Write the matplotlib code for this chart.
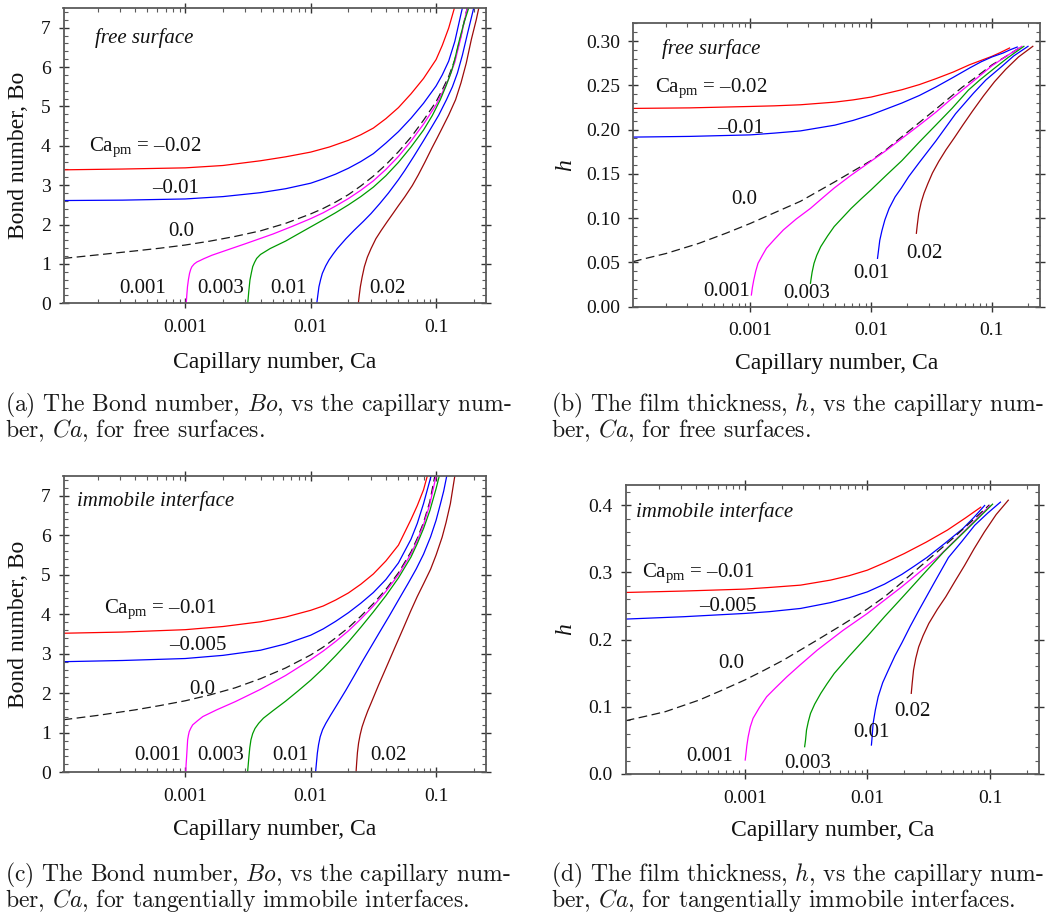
import numpy as np
import matplotlib
matplotlib.use("Agg")
import matplotlib.pyplot as plt
from matplotlib.ticker import LogLocator, MultipleLocator, NullFormatter, FormatStrFormatter

plt.rcParams["font.family"] = ["Liberation Serif", "DejaVu Serif"]
plt.rcParams["mathtext.fontset"] = "custom"
plt.rcParams["mathtext.rm"] = "Liberation Serif"
plt.rcParams["mathtext.it"] = "Liberation Serif:italic"

# ---------------------------------------------------------------- data
CA_MIN, CA_MAX = 1.07e-4, 0.25

# (a) free surface: Bond number vs capillary number, one curve per Ca_pm
fs_bo_m002_ca = [1.07e-4, 3.16e-4, 1e-3, 2e-3, 3.98e-3, 6.31e-3, 0.01, 0.0141, 0.02, 0.0251, 0.0316, 0.0398,
                 0.0501, 0.0631, 0.0794, 0.1, 0.112, 0.126, 0.140]
fs_bo_m002 = [3.39, 3.41, 3.44, 3.50, 3.62, 3.72, 3.84, 3.97, 4.14, 4.28, 4.45, 4.69,
              4.97, 5.32, 5.71, 6.19, 6.55, 6.99, 7.5]
fs_bo_m001_ca = [1.07e-4, 3.16e-4, 1e-3, 2e-3, 3.98e-3, 6.31e-3, 0.01, 0.0126, 0.0158, 0.02, 0.0251, 0.0316,
                 0.0398, 0.0501, 0.0631, 0.0794, 0.1, 0.112, 0.126, 0.141, 0.158, 0.162]
fs_bo_m001 = [2.61, 2.62, 2.65, 2.71, 2.81, 2.91, 3.05, 3.16, 3.28, 3.43, 3.60, 3.80,
              4.07, 4.36, 4.70, 5.08, 5.52, 5.80, 6.15, 6.65, 7.35, 7.5]
fs_bo_0_ca = [1.07e-4, 2.0e-4, 3.98e-4, 6.31e-4, 1e-3, 1.58e-3, 2.51e-3, 3.98e-3, 6.31e-3, 0.01, 0.0126,
              0.0158, 0.02, 0.0251, 0.0316, 0.0398, 0.0501, 0.0631, 0.0794, 0.1, 0.112, 0.126, 0.141,
              0.158, 0.177]
fs_bo_0 = [1.14, 1.23, 1.33, 1.40, 1.48, 1.58, 1.70, 1.84, 2.03, 2.27, 2.41,
           2.57, 2.76, 2.98, 3.23, 3.52, 3.85, 4.22, 4.65, 5.12, 5.42, 5.76, 6.18,
           6.80, 7.5]
fs_bo_p0001_ca = [1.018e-3, 1.03e-3, 1.042e-3, 1.06e-3, 1.082e-3, 1.105e-3, 1.13e-3, 1.18e-3, 1.24e-3,
                  1.32e-3, 1.40e-3, 1.63e-3, 2.14e-3, 3e-3, 5.01e-3, 7.08e-3, 0.01, 0.0126, 0.0158,
                  0.02, 0.0251, 0.0316, 0.0398, 0.0501, 0.0631, 0.0794, 0.1, 0.112, 0.126, 0.141,
                  0.158, 0.177]
fs_bo_p0001 = [0, 0.22, 0.42, 0.60, 0.76, 0.86, 0.93, 1.0, 1.05,
               1.09, 1.13, 1.22, 1.35, 1.51, 1.76, 1.95, 2.15, 2.30, 2.47,
               2.66, 2.87, 3.11, 3.40, 3.73, 4.12, 4.55, 5.04, 5.35, 5.70, 6.12,
               6.76, 7.5]
fs_bo_p0003_ca = [3.15e-3, 3.21e-3, 3.28e-3, 3.37e-3, 3.45e-3, 3.57e-3, 3.71e-3, 3.98e-3, 4.75e-3,
                  6.31e-3, 7.94e-3, 0.01, 0.0126, 0.0158, 0.02, 0.0251, 0.0316, 0.0398, 0.0501,
                  0.0631, 0.0794, 0.0933, 0.108, 0.120, 0.132, 0.141, 0.151, 0.166, 0.182]
fs_bo_p0003 = [0, 0.3, 0.59, 0.78, 0.93, 1.04, 1.14, 1.24, 1.39,
               1.58, 1.76, 1.94, 2.12, 2.30, 2.50, 2.71, 2.95, 3.24, 3.58,
               3.97, 4.40, 4.77, 5.17, 5.52, 5.87, 6.2, 6.6, 7.1, 7.5]
fs_bo_p001_ca = [0.01119, 0.0114, 0.01164, 0.0120, 0.01239, 0.01318, 0.0140, 0.0151, 0.0163, 0.0191,
                 0.0223, 0.0263, 0.0303, 0.0355, 0.0417, 0.0501, 0.0562, 0.0661, 0.0794, 0.0904,
                 0.105, 0.121, 0.135, 0.148, 0.162, 0.178, 0.1995]
fs_bo_p001 = [0, 0.2, 0.42, 0.6, 0.76, 0.95, 1.10, 1.25, 1.39, 1.64,
              1.86, 2.08, 2.28, 2.53, 2.80, 3.14, 3.37, 3.72, 4.13, 4.43,
              4.78, 5.17, 5.5, 5.85, 6.3, 6.85, 7.5]
fs_bo_p002_ca = [0.0240, 0.0244, 0.0249, 0.0257, 0.0268, 0.0283, 0.0303, 0.0331, 0.0365, 0.0407,
                 0.0453, 0.0501, 0.0562, 0.0646, 0.0721, 0.0813, 0.0925, 0.102, 0.111, 0.126,
                 0.143, 0.158, 0.174, 0.191, 0.209, 0.219]
fs_bo_p002 = [0, 0.2, 0.42, 0.66, 0.93, 1.17, 1.39, 1.64, 1.85, 2.07,
              2.28, 2.48, 2.70, 2.99, 3.26, 3.58, 3.94, 4.2, 4.43, 4.78,
              5.17, 5.6, 6.1, 6.7, 7.2, 7.5]

# (b) free surface: film thickness vs capillary number
fs_h_m002_ca = [1.07e-4, 3.16e-4, 1e-3, 1.58e-3, 2.6e-3, 5.01e-3, 7.08e-3, 0.01, 0.018, 0.0251, 0.0343,
                0.0479, 0.0653, 0.1, 0.1175, 0.140]
fs_h_m002 = [0.2239, 0.2245, 0.2261, 0.2268, 0.228, 0.231, 0.2335, 0.2367, 0.245, 0.2508, 0.2574,
             0.2650, 0.2732, 0.2827, 0.2870, 0.2921]
fs_h_m001_ca = [1.07e-4, 3.16e-4, 1e-3, 1.58e-3, 2.6e-3, 5.01e-3, 7.08e-3, 0.01, 0.018, 0.0251, 0.0343,
                0.0479, 0.0653, 0.0813, 0.1, 0.124, 0.141, 0.162]
fs_h_m001 = [0.1915, 0.1923, 0.194, 0.196, 0.1985, 0.205, 0.2103, 0.2167, 0.230, 0.2385, 0.248,
             0.259, 0.2695, 0.2765, 0.282, 0.2865, 0.290, 0.2932]
fs_h_0_ca = [1.07e-4, 1.41e-4, 2.0e-4, 3.75e-4, 6.31e-4, 1e-3, 1.58e-3, 2.6e-3, 5.01e-3, 7.08e-3, 0.01,
             0.0135, 0.018, 0.0251, 0.0343, 0.0564, 0.0759, 0.1, 0.132, 0.177]
fs_h_0 = [0.0509, 0.055, 0.060, 0.0715, 0.083, 0.094, 0.106, 0.119, 0.141, 0.153, 0.165,
          0.178, 0.192, 0.208, 0.223, 0.2475, 0.2605, 0.273, 0.283, 0.294]
fs_h_p0001_ca = [1.021e-3, 1.042e-3, 1.069e-3, 1.109e-3, 1.159e-3, 1.259e-3, 1.361e-3, 1.585e-3, 1.879e-3,
                 2.399e-3, 3.148e-3, 3.98e-3, 4.95e-3, 6.76e-3, 9.44e-3, 0.0132, 0.018, 0.0251, 0.0343,
                 0.0447, 0.058, 0.0759, 0.1, 0.132, 0.177]
fs_h_p0001 = [0.0132, 0.022, 0.0302, 0.040, 0.049, 0.058, 0.066, 0.076, 0.0867,
              0.099, 0.111, 0.123, 0.134, 0.148, 0.162, 0.176, 0.190, 0.205, 0.2195,
              0.233, 0.2455, 0.2585, 0.272, 0.283, 0.294]
fs_h_p0003_ca = [3.148e-3, 3.20e-3, 3.25e-3, 3.37e-3, 3.55e-3, 3.83e-3, 4.37e-3, 4.95e-3, 6.84e-3, 8.32e-3,
                 0.01, 0.0135, 0.018, 0.0251, 0.0343, 0.0468, 0.0638, 0.0794, 0.1, 0.135, 0.184]
fs_h_p0003 = [0.0264, 0.033, 0.039, 0.049, 0.058, 0.0678, 0.080, 0.0905, 0.111, 0.122,
              0.132, 0.149, 0.165, 0.186, 0.205, 0.224, 0.2445, 0.256, 0.267, 0.281, 0.294]
fs_h_p001_ca = [0.0113, 0.01148, 0.0118, 0.0123, 0.0130, 0.0141, 0.0158, 0.0178, 0.0205, 0.0251, 0.0343,
                0.0501, 0.0703, 0.0891, 0.120, 0.151, 0.199]
fs_h_p001 = [0.0546, 0.062, 0.075, 0.086, 0.098, 0.111, 0.124, 0.134, 0.147, 0.163, 0.187,
             0.218, 0.241, 0.256, 0.271, 0.283, 0.294]
fs_h_p002_ca = [0.0237, 0.0241, 0.0248, 0.0260, 0.0274, 0.0295, 0.0322, 0.0363, 0.0416, 0.0490, 0.0574,
                0.0692, 0.0851, 0.105, 0.130, 0.166, 0.218]
fs_h_p002 = [0.0829, 0.092, 0.1055, 0.118, 0.128, 0.139, 0.151, 0.164, 0.177, 0.191, 0.205,
             0.221, 0.238, 0.254, 0.268, 0.282, 0.294]

# (c) immobile interface: Bond number vs capillary number
im_bo_m001_ca = [1.07e-4, 3.16e-4, 1e-3, 2e-3, 3.98e-3, 6.31e-3, 0.01, 0.0126, 0.0158, 0.02, 0.0251,
                 0.0316, 0.0398, 0.0501, 0.0631, 0.0708, 0.0794, 0.0851]
im_bo_m001 = [3.52, 3.55, 3.61, 3.69, 3.81, 3.93, 4.10, 4.21, 4.36, 4.54, 4.76,
              5.02, 5.35, 5.75, 6.4, 6.75, 7.15, 7.5]
im_bo_m0005_ca = [1.07e-4, 3.16e-4, 1e-3, 2e-3, 3.98e-3, 6.31e-3, 0.01, 0.0126, 0.0158, 0.02, 0.0251,
                  0.0316, 0.0398, 0.0501, 0.0631, 0.0708, 0.0794, 0.0851, 0.0912]
im_bo_m0005 = [2.80, 2.83, 2.88, 2.96, 3.09, 3.25, 3.47, 3.63, 3.82, 4.04, 4.28,
               4.55, 4.88, 5.3, 5.9, 6.3, 6.8, 7.15, 7.5]
im_bo_0_ca = [1.07e-4, 2.0e-4, 3.98e-4, 6.31e-4, 1e-3, 1.58e-3, 2.51e-3, 3.98e-3, 6.31e-3, 0.01, 0.0126,
              0.0158, 0.02, 0.0251, 0.0316, 0.0398, 0.0501, 0.0631, 0.0708, 0.0794, 0.0891, 0.0977]
im_bo_0 = [1.33, 1.44, 1.58, 1.69, 1.81, 1.96, 2.14, 2.37, 2.64, 2.97, 3.17,
           3.40, 3.66, 3.95, 4.27, 4.63, 5.05, 5.58, 5.92, 6.32, 6.85, 7.5]
im_bo_p0001_ca = [1.009e-3, 1.016e-3, 1.026e-3, 1.035e-3, 1.045e-3, 1.059e-3, 1.076e-3, 1.109e-3, 1.146e-3,
                  1.259e-3, 1.380e-3, 1.778e-3, 2.512e-3, 3.98e-3, 6.31e-3, 0.01, 0.0126, 0.0158, 0.02,
                  0.0251, 0.0316, 0.0398, 0.0501, 0.0631, 0.0708, 0.0794, 0.0891, 0.1]
im_bo_p0001 = [0, 0.2, 0.4, 0.6, 0.82, 0.93, 1.03, 1.12, 1.2,
               1.31, 1.41, 1.58, 1.79, 2.1, 2.45, 2.85, 3.07, 3.31, 3.58,
               3.88, 4.21, 4.58, 5.0, 5.53, 5.87, 6.27, 6.78, 7.5]
im_bo_p0003_ca = [3.14e-3, 3.18e-3, 3.22e-3, 3.27e-3, 3.34e-3, 3.45e-3, 3.60e-3, 3.85e-3, 4.20e-3,
                  5.01e-3, 6.31e-3, 7.94e-3, 0.01, 0.0126, 0.0158, 0.02, 0.0251, 0.0316, 0.0398,
                  0.0501, 0.0631, 0.0708, 0.0794, 0.0891, 0.1, 0.106]
im_bo_p0003 = [0, 0.2, 0.4, 0.62, 0.82, 0.98, 1.11, 1.24, 1.37,
               1.56, 1.80, 2.06, 2.33, 2.63, 2.95, 3.30, 3.67, 4.06, 4.47,
               4.92, 5.45, 5.79, 6.17, 6.62, 7.18, 7.5]
im_bo_p001_ca = [0.01094, 0.01109, 0.01130, 0.01156, 0.01191, 0.01245, 0.01321, 0.01445, 0.0163, 0.0191,
                 0.0223, 0.0263, 0.0303, 0.0355, 0.0422, 0.0501, 0.0603, 0.0695, 0.0794, 0.0904,
                 0.1, 0.108, 0.115, 0.1216]
im_bo_p001 = [0, 0.2, 0.48, 0.7, 0.9, 1.08, 1.24, 1.45, 1.72, 2.08,
              2.45, 2.85, 3.18, 3.55, 3.95, 4.36, 4.8, 5.15, 5.52, 5.96,
              6.38, 6.78, 7.12, 7.5]
im_bo_p002_ca = [0.0230, 0.02328, 0.0236, 0.0241, 0.0248, 0.0257, 0.0270, 0.0285, 0.0303, 0.0347,
                 0.0400, 0.0468, 0.0550, 0.0627, 0.0708, 0.0794, 0.0904, 0.1, 0.1117, 0.120,
                 0.130, 0.141]
im_bo_p002 = [0, 0.25, 0.5, 0.74, 0.95, 1.15, 1.35, 1.55, 1.75, 2.2,
              2.65, 3.15, 3.66, 4.08, 4.45, 4.77, 5.14, 5.5, 5.95, 6.32,
              6.8, 7.5]

# (d) immobile interface: film thickness vs capillary number
im_h_m001_ca = [1.07e-4, 3.16e-4, 1e-3, 1.58e-3, 2.85e-3, 5.01e-3, 7.08e-3, 0.01, 0.0141, 0.02, 0.0302,
                0.045, 0.0631, 0.0841]
im_h_m001 = [0.2701, 0.2722, 0.2751, 0.2775, 0.281, 0.2885, 0.2950, 0.3033, 0.315, 0.328, 0.345,
             0.363, 0.381, 0.397]
im_h_m0005_ca = [1.07e-4, 3.16e-4, 1e-3, 1.58e-3, 2.85e-3, 5.01e-3, 7.08e-3, 0.01, 0.0138, 0.0191, 0.024,
                 0.0305, 0.0427, 0.060, 0.0741, 0.0904]
im_h_m0005 = [0.2305, 0.234, 0.2389, 0.2415, 0.2463, 0.255, 0.2622, 0.271, 0.2825, 0.297, 0.309,
              0.322, 0.343, 0.365, 0.382, 0.3995]
im_h_0_ca = [1.07e-4, 1.58e-4, 2.25e-4, 4.25e-4, 6.31e-4, 1e-3, 1.41e-3, 2.07e-3, 3.91e-3, 6.31e-3,
             0.01, 0.0141, 0.0191, 0.0263, 0.0369, 0.0501, 0.0708, 0.0989]
im_h_0 = [0.0793, 0.0862, 0.0927, 0.110, 0.1235, 0.1398, 0.1535, 0.1695, 0.1995, 0.2225,
          0.2455, 0.265, 0.285, 0.307, 0.330, 0.351, 0.376, 0.4005]
im_h_p0001_ca = [1.009e-3, 1.023e-3, 1.040e-3, 1.067e-3, 1.109e-3, 1.169e-3, 1.318e-3, 1.510e-3, 1.778e-3,
                 2.208e-3, 2.818e-3, 3.908e-3, 6.31e-3, 0.01, 0.0141, 0.0191, 0.0282, 0.0387, 0.0631,
                 0.1]
im_h_p0001 = [0.0208, 0.03, 0.042, 0.0555, 0.07, 0.0828, 0.099, 0.115, 0.128,
              0.1447, 0.162, 0.1844, 0.2135, 0.2389, 0.26, 0.2786, 0.304, 0.325, 0.363,
              0.3995]
im_h_p0003_ca = [3.08e-3, 3.13e-3, 3.19e-3, 3.30e-3, 3.44e-3, 3.72e-3, 4.17e-3, 4.68e-3, 5.37e-3, 7.08e-3,
                 0.01, 0.0138, 0.0191, 0.0282, 0.0417, 0.0631, 0.105]
im_h_p0003 = [0.0406, 0.05, 0.0654, 0.078, 0.0902, 0.104, 0.12, 0.134, 0.1497, 0.175,
              0.205, 0.234, 0.262, 0.296, 0.330, 0.362, 0.4015]
im_h_p001_ca = [0.01079, 0.01092, 0.01114, 0.01161, 0.01225, 0.01334, 0.01483, 0.0168, 0.0191, 0.0224,
                0.0262, 0.0347, 0.0458, 0.0589, 0.075, 0.0955, 0.1216]
im_h_p001 = [0.0431, 0.054, 0.0753, 0.095, 0.115, 0.136, 0.1546, 0.176, 0.195, 0.22,
             0.243, 0.283, 0.322, 0.346, 0.37, 0.388, 0.4045]
im_h_p002_ca = [0.0228, 0.0232, 0.0238, 0.0248, 0.0262, 0.0285, 0.0317, 0.0372, 0.0436, 0.0519, 0.0619,
                0.0741, 0.0899, 0.1122, 0.141]
im_h_p002 = [0.12, 0.135, 0.1546, 0.172, 0.189, 0.206, 0.224, 0.245, 0.2637, 0.287, 0.31,
             0.335, 0.36, 0.386, 0.4074]

# curve labels: text, Ca position, value position (baseline), alignment
fs_bo_labels = [("Ca$_{\\rm pm}$ = \u20130.02", 1.72e-4, 3.86, "left"),
                ("\u20130.01", 5.48e-4, 2.79, "left"),
                ("0.0", 9.25e-4, 1.71, "center"),
                ("0.001", 4.6e-4, 0.25, "center"),
                ("0.003", 1.9e-3, 0.25, "center"),
                ("0.01", 6.7e-3, 0.25, "center"),
                ("0.02", 0.0413, 0.25, "center")]
fs_h_labels = [("Ca$_{\\rm pm}$ = \u20130.02", 1.62e-4, 0.2419, "left"),
               ("\u20130.01", 5.28e-4, 0.1966, "left"),
               ("0.0", 8.85e-4, 0.1155, "center"),
               ("0.001", 6.35e-4, 0.0120, "center"),
               ("0.003", 2.92e-3, 0.0093, "center"),
               ("0.01", 0.01004, 0.0319, "center"),
               ("0.02", 0.0279, 0.0545, "center")]
im_bo_labels = [("Ca$_{\\rm pm}$ = \u20130.01", 2.24e-4, 4.02, "left"),
                ("\u20130.005", 7.45e-4, 3.09, "left"),
                ("0.0", 1.36e-3, 1.98, "center"),
                ("0.001", 6.01e-4, 0.32, "center"),
                ("0.003", 1.93e-3, 0.32, "center"),
                ("0.01", 6.93e-3, 0.32, "center"),
                ("0.02", 0.0414, 0.32, "center")]
im_h_labels = [("Ca$_{\\rm pm}$ = \u20130.01", 1.44e-4, 0.2934, "left"),
               ("\u20130.005", 4.23e-4, 0.2427, "left"),
               ("0.0", 7.75e-4, 0.1584, "center"),
               ("0.001", 5.21e-4, 0.0196, "center"),
               ("0.003", 3.27e-3, 0.0082, "center"),
               ("0.01", 0.0107, 0.0553, "center"),
               ("0.02", 0.0232, 0.0861, "center")]

x_ticks = [1e-3, 1e-2, 1e-1]
x_ticklabels = ["0.001", "0.01", "0.1"]

captions = [
    ("(a) The Bond number, $Bo$, vs the capillary num-", "ber, $Ca$, for free surfaces."),
    ("(b) The film thickness, $h$, vs the capillary num-", "ber, $Ca$, for free surfaces."),
    ("(c) The Bond number, $Bo$, vs the capillary num-", "ber, $Ca$, for tangentially immobile interfaces."),
    ("(d) The film thickness, $h$, vs the capillary num-", "ber, $Ca$, for tangentially immobile interfaces."),
]

# ---------------------------------------------------------------- styling
line_colors = ["#ff0000", "#0000ff", "#000000", "#ff00ff", "#009a00", "#0000ff", "#9c0a0a"]
SPINE = "#5a5a5a"
TXT = "#111111"
W, H = 1058, 917

fig = plt.figure(figsize=(W / 100, H / 100), dpi=100)


def px_box(left, top, right, bottom):
    return [left / W, 1 - bottom / H, (right - left) / W, (bottom - top) / H]


def make_panel(box, curves, labels, ymax, ymajor, yminor, yfmt, ylabel, yitalic,
               note, note_xy, xlab_y, ylab_x):
    ax = fig.add_axes(px_box(*box))
    for (ca, val), color in zip(curves, line_colors):
        if color == "#000000":
            ax.plot(ca, val, color="#1a1a1a", lw=0.9, dashes=(7, 3.6))
        else:
            ax.plot(ca, val, color=color, lw=0.9)
    ax.set_xscale("log")
    ax.set_xlim(CA_MIN, CA_MAX)
    ax.set_ylim(0, ymax)
    ax.set_xticks(x_ticks)
    ax.set_xticklabels(x_ticklabels)
    ax.xaxis.set_minor_locator(LogLocator(base=10, subs=np.arange(2, 10)))
    ax.xaxis.set_minor_formatter(NullFormatter())
    ax.yaxis.set_major_locator(MultipleLocator(ymajor))
    ax.yaxis.set_minor_locator(MultipleLocator(yminor))
    ax.yaxis.set_major_formatter(FormatStrFormatter(yfmt))
    for sp in ax.spines.values():
        sp.set_color(SPINE)
        sp.set_linewidth(1.3)
    ax.tick_params(which="major", direction="inout", length=6.5, width=1.0,
                   color="#333333", top=True, right=True, labelsize=14,
                   labelcolor=TXT)
    ax.tick_params(axis="x", which="major", pad=8)
    ax.tick_params(axis="y", which="major", pad=6)
    ax.tick_params(which="minor", direction="in", length=2.6, width=0.8,
                   color=SPINE, top=True, right=True)

    for text, x, y, ha in labels:
        ax.text(x, y, text, fontsize=15, ha=ha, va="baseline", color=TXT)
    ax.text(note_xy[0], note_xy[1], note, fontsize=15, style="italic",
            ha="left", va="baseline", color=TXT)

    ax.text(0.5, xlab_y, "Capillary number, Ca", transform=ax.transAxes,
            fontsize=17, ha="center", va="center", color=TXT)
    ax.text(ylab_x, 0.5, ylabel, transform=ax.transAxes, rotation=90,
            fontsize=17, ha="center", va="center", color=TXT,
            style="italic" if yitalic else "normal")
    return ax


make_panel((63.5, 8, 486, 303.3),
           [(fs_bo_m002_ca, fs_bo_m002), (fs_bo_m001_ca, fs_bo_m001), (fs_bo_0_ca, fs_bo_0),
            (fs_bo_p0001_ca, fs_bo_p0001), (fs_bo_p0003_ca, fs_bo_p0003),
            (fs_bo_p001_ca, fs_bo_p001), (fs_bo_p002_ca, fs_bo_p002)],
           fs_bo_labels, 7.5, 1, 0.2, "%d", "Bond number, Bo", False,
           "free surface", (1.90e-4, 6.62), -0.202, -0.1065)

make_panel((633, 23.3, 1040, 306.7),
           [(fs_h_m002_ca, fs_h_m002), (fs_h_m001_ca, fs_h_m001), (fs_h_0_ca, fs_h_0),
            (fs_h_p0001_ca, fs_h_p0001), (fs_h_p0003_ca, fs_h_p0003),
            (fs_h_p001_ca, fs_h_p001), (fs_h_p002_ca, fs_h_p002)],
           fs_h_labels, 0.32, 0.05, 0.01, "%.2f", "h", True,
           "free surface", (1.85e-4, 0.2857), -0.1987, -0.1646)

make_panel((63.5, 476, 486, 772.3),
           [(im_bo_m001_ca, im_bo_m001), (im_bo_m0005_ca, im_bo_m0005), (im_bo_0_ca, im_bo_0),
            (im_bo_p0001_ca, im_bo_p0001), (im_bo_p0003_ca, im_bo_p0003),
            (im_bo_p001_ca, im_bo_p001), (im_bo_p002_ca, im_bo_p002)],
           im_bo_labels, 7.5, 1, 0.2, "%d", "Bond number, Bo", False,
           "immobile interface", (1.37e-4, 6.73), -0.1947, -0.1065)

make_panel((625.7, 485, 1038.8, 774),
           [(im_h_m001_ca, im_h_m001), (im_h_m0005_ca, im_h_m0005), (im_h_0_ca, im_h_0),
            (im_h_p0001_ca, im_h_p0001), (im_h_p0003_ca, im_h_p0003),
            (im_h_p001_ca, im_h_p001), (im_h_p002_ca, im_h_p002)],
           im_h_labels, 0.43, 0.1, 0.02, "%.1f", "h", True,
           "immobile interface", (1.31e-4, 0.383), -0.1938, -0.1445)

# sub-figure captions
cap_pos = [(5, 411), (551, 411), (5, 881), (551, 881)]
for (l1, l2), (x, y) in zip(captions, cap_pos):
    fig.text(x / W, 1 - y / H, l1, fontsize=17, family="cmr10", math_fontfamily="cm",
             ha="left", va="baseline", color="#1a1a1a")
    fig.text(x / W, 1 - (y + 26) / H, l2, fontsize=17, family="cmr10", math_fontfamily="cm",
             ha="left", va="baseline", color="#1a1a1a")

fig.savefig("out.png", dpi=100)
